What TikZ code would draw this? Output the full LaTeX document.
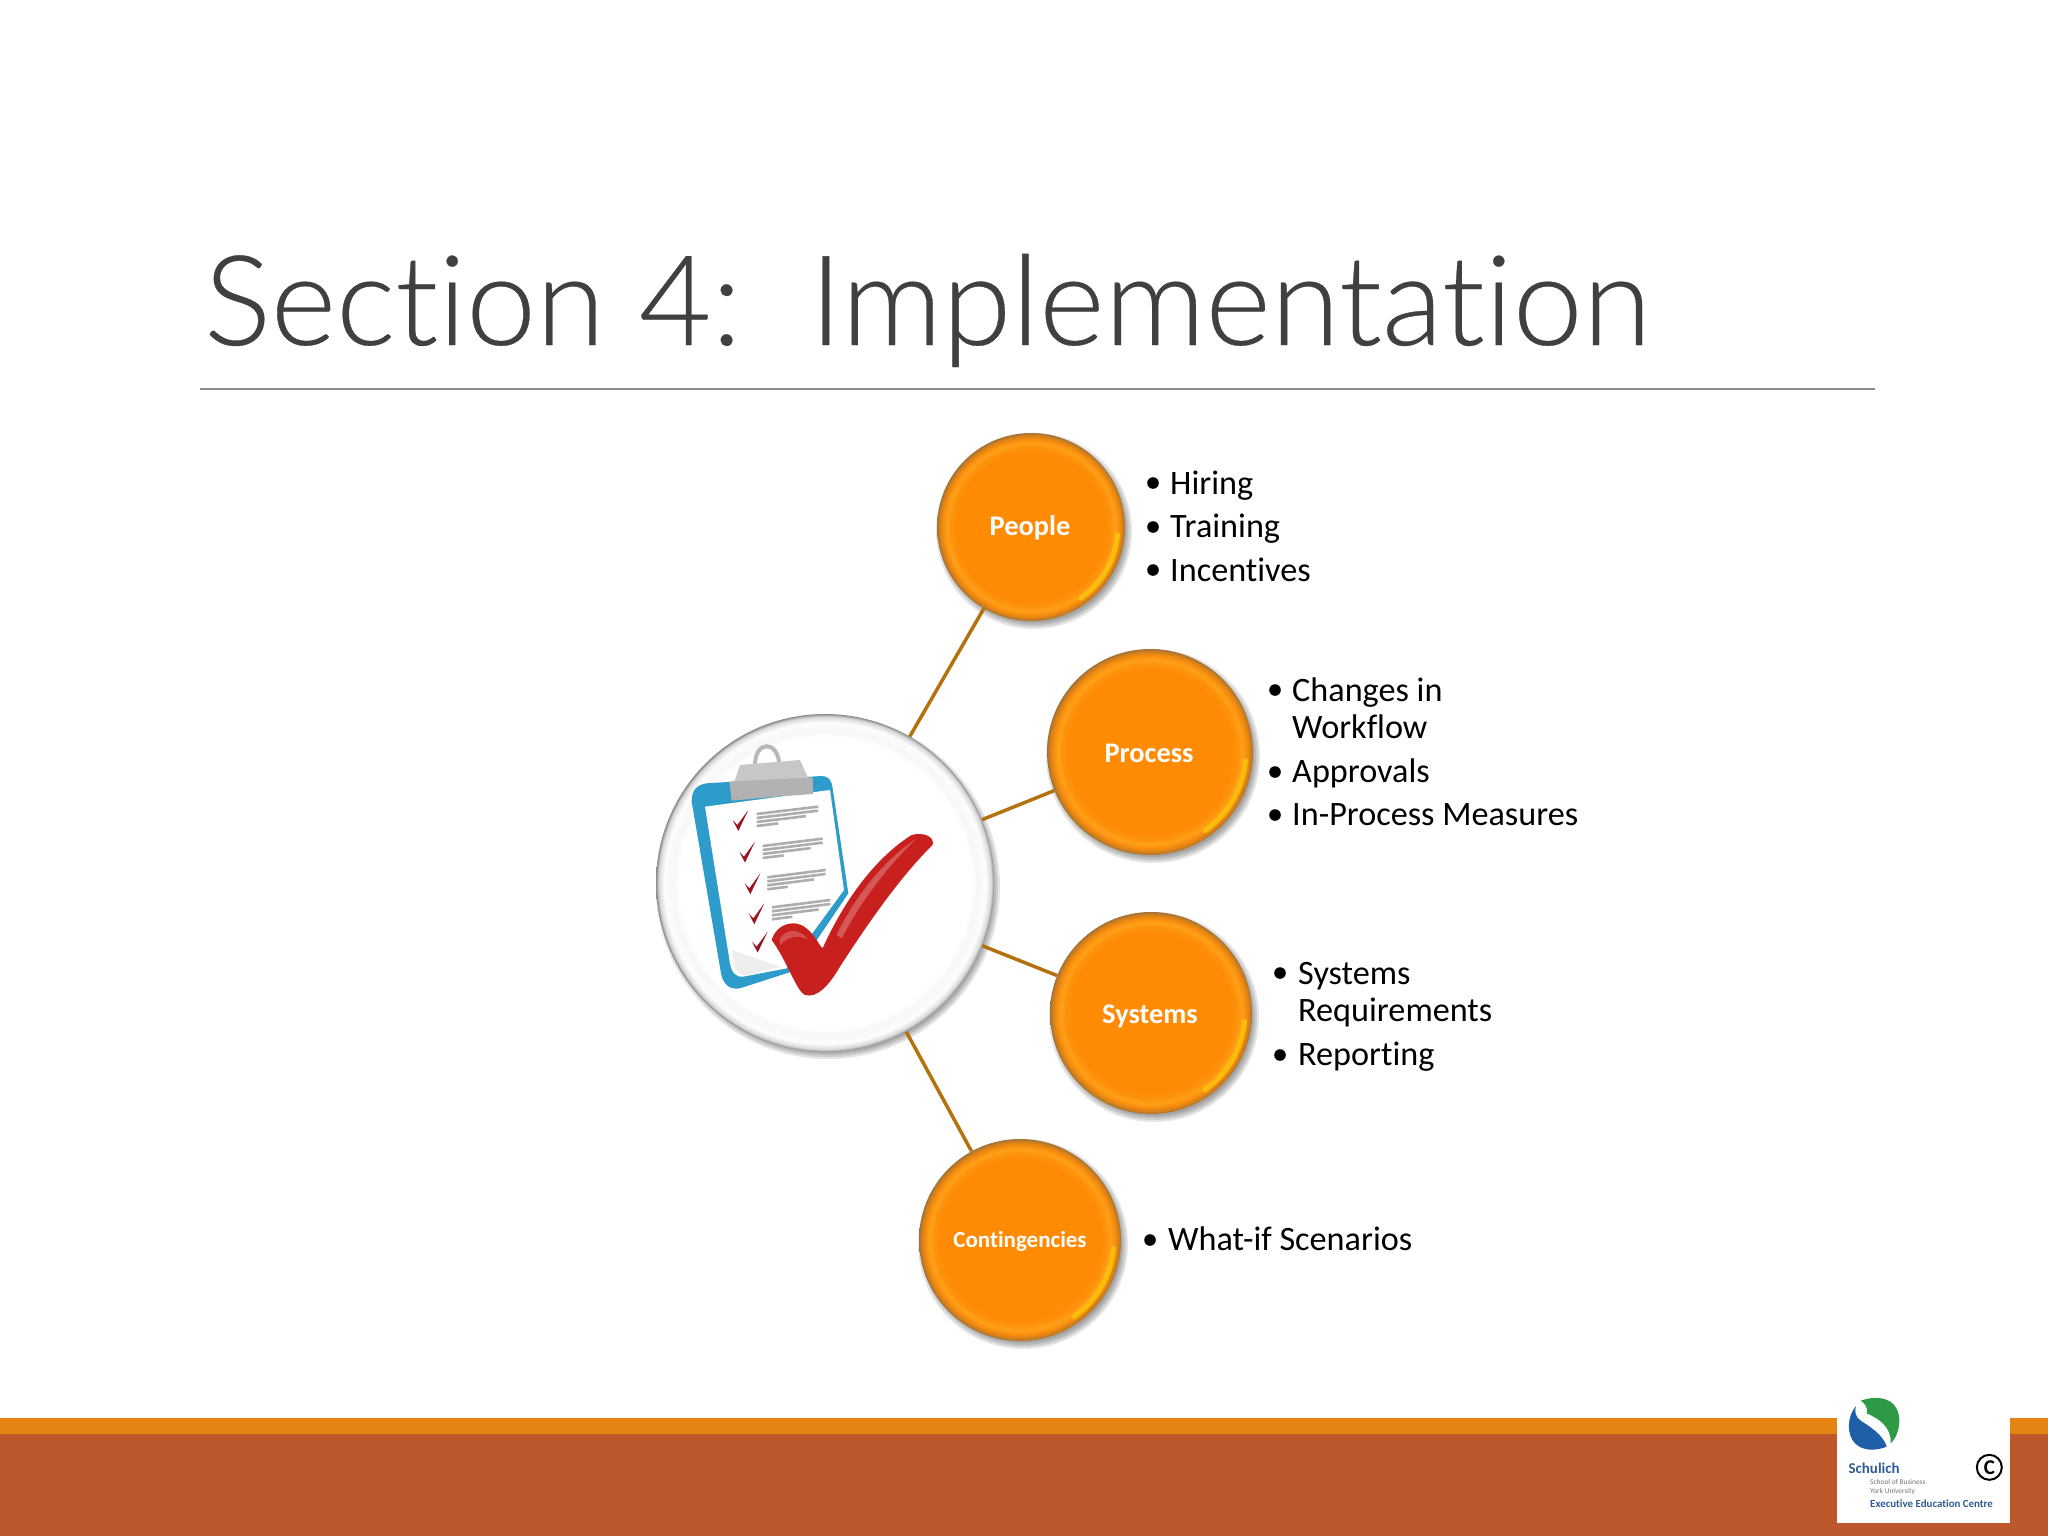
\documentclass[tikz,border=0pt]{standalone}
\usepackage{fontspec}
\setmainfont{Carlito}[Ligatures=NoCommon]
\newfontfamily\titlefont{Lato}[UprightFont=* Light,Ligatures=NoCommon,FakeBold=0.25]
\usetikzlibrary{backgrounds}
\pgfdeclarelayer{shadowlayer}
\pgfsetlayers{shadowlayer,background,main}
\definecolor{titlegray}{HTML}{404040}
\definecolor{rulegray}{HTML}{8C8C8C}
\definecolor{barorange}{HTML}{E48312}
\definecolor{barbrown}{HTML}{BD582C}
\definecolor{linkcol}{HTML}{B4720F}
\definecolor{boardblue}{HTML}{2E9CCB}
\definecolor{checkred}{HTML}{C8201E}
\definecolor{checkdark}{HTML}{9A1520}
\definecolor{logoblue}{HTML}{1F5FA8}
\definecolor{logogreen}{HTML}{2E9A46}
\definecolor{logotext}{HTML}{2F5C94}
\pgfdeclareradialshading{orbshade}{\pgfpointorigin}{
  rgb(0bp)=(1,0.545,0.02);
  rgb(20bp)=(1,0.545,0.02);
  rgb(21.5bp)=(0.99,0.58,0.05);
  rgb(22.3bp)=(1,0.63,0.10);
  rgb(23.5bp)=(0.97,0.55,0.05);
  rgb(24.5bp)=(0.80,0.49,0.12);
  rgb(25bp)=(0.62,0.45,0.22);
  rgb(50bp)=(0.62,0.45,0.22)}
\pgfdeclareradialshading{hubshade}{\pgfpointorigin}{
  rgb(0bp)=(1,1,1);
  rgb(21.5bp)=(1,1,1);
  rgb(22.5bp)=(0.97,0.97,0.97);
  rgb(23.8bp)=(0.99,0.99,0.99);
  rgb(24.6bp)=(0.85,0.85,0.85);
  rgb(25bp)=(0.55,0.55,0.55);
  rgb(50bp)=(0.55,0.55,0.55)}
\tikzset{
  orb/.style={circle,inner sep=0pt,shade,shading=orbshade},
  hub/.style={circle,inner sep=0pt,shade,shading=hubshade},
  orblabel/.style={text=white,inner sep=0pt,font=\bfseries\fontsize{28.4}{28.4}\selectfont},
  link/.style={draw=linkcol,line width=3.5pt},
  itemtext/.style={anchor=base west,inner sep=0pt,text=black,font=\fontsize{34.2}{34.2}\selectfont},
  softshadow/.style={fill=black,opacity=0.1},
  sheen/.style={line width=5pt,line cap=round,draw=yellow!80!orange,opacity=0.55}
}
\newcommand{\softdisc}[3]{%
  \begin{pgfonlayer}{shadowlayer}
    \foreach \d in {-2,0,2,4}{\fill[softshadow] (#1+3,#2+4) circle ({#3+\d});}
  \end{pgfonlayer}}
\newcommand{\itemline}[3]{%
  \node[itemtext] (#1) at (#2) {#3};}
\begin{document}
\begin{tikzpicture}[x=1pt,y=-1pt]
\useasboundingbox (0,0) rectangle (2048,1536);

% title
\node[anchor=base west,inner sep=0pt,text=titlegray,font=\titlefont\fontsize{125.3}{125.3}\selectfont] (title) at (204,345) {Section 4:\ \ Implementation};
\coordinate (ruleL) at (200,389);
\coordinate (ruleR) at (1875,389);
\draw[rulegray,line width=1.5pt] (ruleL) -- (ruleR);

% footer
\fill[barorange] (0,1418) rectangle (2048,1434);
\fill[barbrown] (0,1434) rectangle (2048,1536);

% orbs
\softdisc{825}{883}{168}
\softdisc{1031}{527}{94}
\softdisc{1150}{752}{103}
\softdisc{1151}{1013}{101}
\softdisc{1020}{1240}{101}
\node[hub,minimum size=338pt] (hub) at (825,883) {};
\node[orb,minimum size=188pt] (people) at (1031,527) {};
\node[orb,minimum size=206pt] (process) at (1150,752) {};
\node[orb,minimum size=202pt] (systems) at (1151,1013) {};
\node[orb,minimum size=202pt] (contingencies) at (1020,1240) {};
\node[orblabel] (peopleL) at (1030,528) {People};
\node[orblabel] (processL) at (1149,753) {Process};
\node[orblabel] (systemsL) at (1150,1016) {Systems};
\node[orblabel,font=\bfseries\fontsize{23}{23}\selectfont] (contL) at (1020,1241) {Contingencies};

% rim highlights (lower right)
\draw[sheen] ([shift={(5:87)}]people.center) arc[start angle=5,end angle=55,radius=87];
\draw[sheen] ([shift={(5:96)}]process.center) arc[start angle=5,end angle=55,radius=96];
\draw[sheen] ([shift={(5:94)}]systems.center) arc[start angle=5,end angle=55,radius=94];
\draw[sheen] ([shift={(5:94)}]contingencies.center) arc[start angle=5,end angle=55,radius=94];

% connectors
\begin{pgfonlayer}{background}
\draw[link] (hub) -- (people);
\draw[link] (hub) -- (process);
\draw[link] (hub) -- (systems);
\draw[link] (hub) -- (contingencies);
\end{pgfonlayer}

% bullet lists
\foreach \bx/\by in {1153/494,1153/538,1153/581,1275/701,1275/783,1275/826,1280/984,1280/1066,1150/1251}{
  \fill[black] (\bx,\by-11) circle (5.8);
}
\itemline{i1}{1170,494}{Hiring}
\itemline{i2}{1170,537}{Training}
\itemline{i3}{1170,581}{Incentives}
\itemline{i4}{1292,701}{Changes in}
\itemline{i5}{1292,738}{Workflow}
\itemline{i6}{1292,782}{Approvals}
\itemline{i7}{1292,825}{In-Process Measures}
\itemline{i8}{1298,984}{Systems}
\itemline{i9}{1298,1021}{Requirements}
\itemline{i10}{1298,1065}{Reporting}
\itemline{i11}{1168,1250}{What-if Scenarios}

% clipboard picture, in zoom-crop coordinates
\begin{scope}[shift={(640,690)},x=0.3333pt,y=-0.3333pt]
  % board
  \fill[boardblue] (155,335) .. controls (155,300) and (170,285) .. (200,280) -- (545,258)
     .. controls (565,258) and (575,270) .. (578,295) -- (625,610) -- (470,840) -- (300,895)
     .. controls (270,900) and (250,885) .. (243,850) -- cycle;
  % paper
  \fill[white] (195,350) -- (570,300) -- (612,600) -- (440,835) -- (310,860)
     .. controls (285,862) and (275,845) .. (270,820) -- cycle;
  \fill[black!7] (275,780) -- (420,830) -- (310,858) -- (285,835) -- cycle;
  % clip
  \draw[black!28,line width=4pt] (345,225) .. controls (345,150) and (415,150) .. (418,225);
  \fill[black!22] (300,225) -- (480,210) -- (505,265) -- (280,285) -- cycle;
  \fill[black!30] (268,275) -- (518,262) -- (520,312) .. controls (430,318) and (350,325) .. (275,332) -- cycle;
  % small checks
  \foreach \cx/\cy in {300/395,320/490,336/585,348/675,358/760}{
    \fill[checkdark] (\cx-22,\cy-5) -- (\cx-8,\cy+10) -- (\cx+25,\cy-35) -- (\cx-5,\cy+28) -- cycle;
  }
  % text lines
  \foreach \lx/\ly/\ln in {350/372/185,368/468/180,382/562/175,396/652/175}{
    \foreach \k/\m in {0/1,1/1,2/0.8,3/0.35}{
      \draw[black!32,line width=2.6pt] (\lx,\ly+12*\k) -- +(\ln*\m,-22*\m);
    }
  }
  % large check
  \fill[checkred] (395,750) .. controls (410,700) and (470,680) .. (510,725)
     .. controls (530,745) and (540,770) .. (548,775)
     .. controls (590,680) and (680,520) .. (815,435)
     .. controls (850,425) and (885,440) .. (878,465)
     .. controls (790,550) and (690,690) .. (600,830)
     .. controls (565,890) and (530,925) .. (495,915)
     .. controls (470,905) and (440,810) .. (395,750) -- cycle;
  \fill[white,opacity=0.22] (420,745) .. controls (440,715) and (480,715) .. (505,750)
     .. controls (480,735) and (450,735) .. (420,765) -- cycle;
  \fill[white,opacity=0.25] (590,735) .. controls (640,630) and (720,520) .. (830,445)
     .. controls (740,530) and (660,640) .. (605,745) -- cycle;
\end{scope}

% logo, in zoom-crop coordinates
\fill[white] (1837,1390) rectangle (2010,1523);
\begin{scope}[shift={(1820,1380)},x=0.3333pt,y=-0.3333pt]
  \fill[logogreen] (122,62) .. controls (170,45) and (235,50) .. (238,120)
     .. controls (238,150) and (228,175) .. (212,190)
     .. controls (215,140) and (175,115) .. (140,100)
     .. controls (145,85) and (135,70) .. (122,62) -- cycle;
  \fill[logoblue] (108,78) .. controls (80,110) and (80,165) .. (105,190)
     .. controls (130,215) and (170,212) .. (200,200)
     .. controls (190,165) and (150,140) .. (122,122)
     .. controls (105,110) and (103,92) .. (108,78) -- cycle;
  \node[anchor=base west,inner sep=0pt,text=logotext,font=\bfseries\fontsize{15}{15}\selectfont] (lg1) at (85,280) {Schulich};
  \node[anchor=base west,inner sep=0pt,text=black!55,font=\fontsize{7.4}{7.4}\selectfont] (lg2) at (150,312) {School of Business};
  \node[anchor=base west,inner sep=0pt,text=black!55,font=\fontsize{7.4}{7.4}\selectfont] (lg3) at (150,340) {York University};
  \node[anchor=base west,inner sep=0pt,text=logotext,font=\bfseries\fontsize{10.9}{10.9}\selectfont] (lg4) at (150,382) {Executive Education Centre};
  \node[circle,draw=black,line width=2pt,minimum size=25pt,inner sep=0pt,font=\bfseries\fontsize{21}{21}\selectfont] (lg5) at (508,262) {C};
\end{scope}
\end{tikzpicture}
\end{document}
